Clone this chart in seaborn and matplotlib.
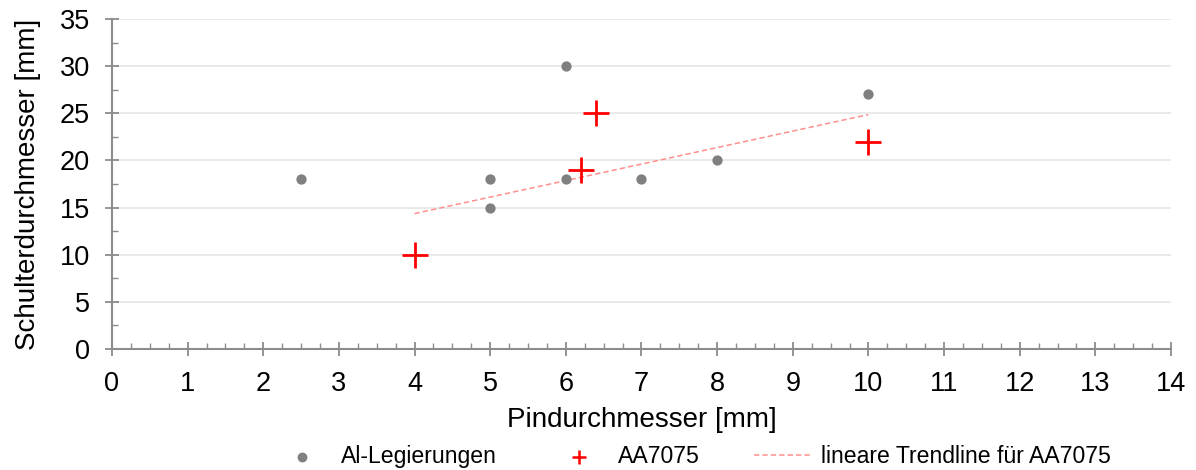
import numpy as np
import pandas as pd
import matplotlib
matplotlib.use("Agg")
import matplotlib.pyplot as plt
from matplotlib.ticker import MultipleLocator
import seaborn as sns

# Pin diameter vs. shoulder diameter of FSW tools
al_pin = [2.5, 5, 5, 6, 6, 7, 8, 10]
al_shoulder = [18, 18, 15, 30, 18, 18, 20, 27]

aa_pin = [4, 6.2, 6.4, 10]
aa_shoulder = [10, 19, 25, 22]

x_ticks = list(range(0, 15))
y_ticks = list(range(0, 36, 5))

sns.set_theme(style="white")
plt.rcParams["font.family"] = ["Liberation Sans", "DejaVu Sans"]
plt.rcParams["text.color"] = "black"

fig = plt.figure(figsize=(11.96, 4.70), dpi=100)
ax = fig.add_axes([0.0936, 0.2574, 0.8855, 0.7022])

al_df = pd.DataFrame({"pin": al_pin, "shoulder": al_shoulder})
aa_df = pd.DataFrame({"pin": aa_pin, "shoulder": aa_shoulder})

sns.scatterplot(data=al_df, x="pin", y="shoulder", ax=ax, color="#808080",
                s=55, linewidth=0, marker="o", label="Al-Legierungen", zorder=3)
sns.scatterplot(data=aa_df, x="pin", y="shoulder", ax=ax, color="#ff0000",
                s=330, linewidth=2.0, marker="+", label="AA7075", zorder=4)

# linear trend of the AA7075 points
slope, intercept = np.polyfit(aa_pin, aa_shoulder, 1)
tx = np.array([min(aa_pin), max(aa_pin)])
ax.plot(tx, slope * tx + intercept, color="#ff8f8f", lw=1.1,
        ls=(0, (3.5, 2)), label="lineare Trendline für AA7075", zorder=2)

ax.set_xlim(0, 14)
ax.set_ylim(0, 35)
ax.set_xticks(x_ticks)
ax.set_yticks(y_ticks)
ax.xaxis.set_minor_locator(MultipleLocator(0.25))
ax.yaxis.set_minor_locator(MultipleLocator(2.5))

ax.yaxis.grid(True, color="#e6e6e6", lw=1.2)
ax.xaxis.grid(False)
ax.set_axisbelow(True)

axis_col = "#8c8c8c"
for side in ["top", "right"]:
    ax.spines[side].set_visible(False)
for side in ["left", "bottom"]:
    ax.spines[side].set_color(axis_col)
    ax.spines[side].set_linewidth(1.5)

ax.tick_params(which="major", direction="inout", length=10, width=1.3,
               color=axis_col, labelsize=19.5, labelcolor="black", pad=11)
ax.tick_params(which="minor", direction="in", length=4, width=1.0,
               color=axis_col)
ax.tick_params(axis="x", which="both", bottom=True)
ax.tick_params(axis="y", which="both", left=True)

ax.set_xlabel("Pindurchmesser [mm]", fontsize=20, color="black", labelpad=7)
ax.set_ylabel("Schulterdurchmesser [mm]", fontsize=20, color="black", labelpad=13)

handles, labels = ax.get_legend_handles_labels()
leg = ax.legend(handles, labels, loc="center",
                bbox_to_anchor=(0.548, -0.327), ncol=3, frameon=False,
                fontsize=16.6, handlelength=2.47, columnspacing=2.36,
                handletextpad=0.43, borderpad=0, labelcolor="black")
leg.legend_handles[0].set_sizes([50])
leg.legend_handles[1].set_sizes([90])
leg.legend_handles[1].set_linewidth(1.8)

fig.savefig("out.png", dpi=100, facecolor="white")
